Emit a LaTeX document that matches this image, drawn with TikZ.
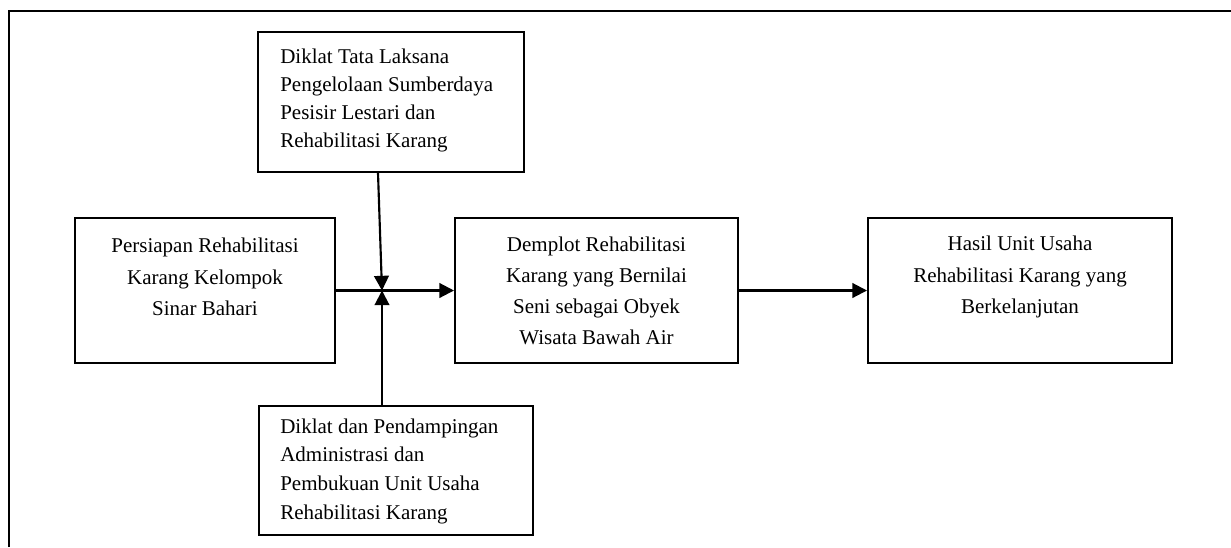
\documentclass[tikz,border=0pt]{standalone}
\usepackage{fontspec}
\setmainfont{Liberation Serif}
\usetikzlibrary{arrows.meta,calc}
\tikzset{
  box/.style={draw, line width=1.5pt, inner sep=0pt, rectangle},
  txtc/.style={align=center, inner sep=0pt, font=\fontsize{15.75}{23.4}\selectfont},
  txtl/.style={align=left, inner sep=0pt, anchor=west, font=\fontsize{15.75}{21}\selectfont},
  conn/.style={line width=1.6pt, -{Triangle[length=11pt,width=11pt]}},
  frame/.style={line width=1.8pt}
}
\begin{document}
\begin{tikzpicture}[x=0.75pt,y=-0.75pt]
\useasboundingbox (0,0) rectangle (1231,547);
\draw[frame] (9,547) -- (9,11) -- (1231,11);
% boxes
\node[box, minimum width=199.5pt, minimum height=105pt] (T) at (391,102) {};
\node[box, minimum width=195pt, minimum height=108.75pt] (L) at (205,290.5) {};
\node[box, minimum width=212.25pt, minimum height=108.75pt] (M) at (596.5,290.5) {};
\node[box, minimum width=228pt, minimum height=108.75pt] (R) at (1020,290.5) {};
\node[box, minimum width=205.5pt, minimum height=96.75pt] (B) at (396,470.5) {};
% texts
\node[txtl] (Tt) at (280,100) {Diklat Tata Laksana\\Pengelolaan Sumberdaya\\Pesisir Lestari dan\\Rehabilitasi Karang};
\node[txtc] (Lt) at (205,277) {Persiapan Rehabilitasi\\Karang Kelompok\\Sinar Bahari};
\node[txtc] (Mt) at (596.5,291) {Demplot Rehabilitasi\\Karang yang Bernilai\\Seni sebagai Obyek\\Wisata Bawah Air};
\node[txtc] (Rt) at (1020,277) {Hasil Unit Usaha\\Rehabilitasi Karang yang\\Berkelanjutan};
\node[txtl, font=\fontsize{15.75}{21.5}\selectfont] (Bt) at (280,471) {Diklat dan Pendampingan\\Administrasi dan\\Pembukuan Unit Usaha\\Rehabilitasi Karang};
% connectors
\coordinate (J) at (382,290.5);
\draw[conn] (L.east) -- (M.west);
\draw[conn] ($(T.south west)+(121,0)$) -- (J);
\draw[conn] ($(B.north west)+(124,0)$) -- (J);
\draw[conn] (M.east) -- (R.west);
\end{tikzpicture}
\end{document}
